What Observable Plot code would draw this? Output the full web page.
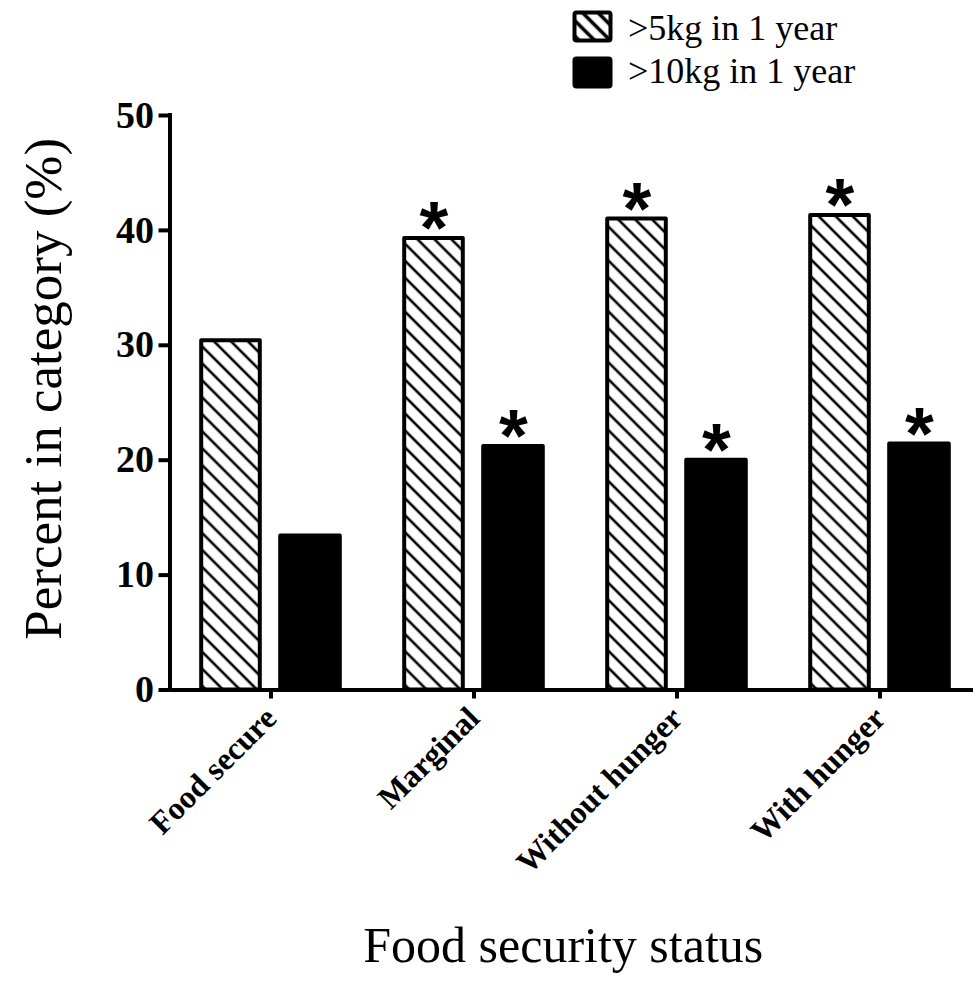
<!DOCTYPE html>
<html>
<head>
<meta charset="utf-8">
<script src="https://cdn.jsdelivr.net/npm/d3@7"></script>
<script src="https://cdn.jsdelivr.net/npm/@observablehq/plot@0.6"></script>
<style>
  html, body { margin: 0; padding: 0; background: white; }
  #wrap { position: relative; width: 973px; height: 996px; overflow: hidden; }
  .leg-text { position: absolute; font-family: "Liberation Serif", "Times New Roman", serif; font-size: 36px; line-height: 36px; color: black; white-space: nowrap; }
  .leg-sw { position: absolute; }
</style>
</head>
<body>
<div id="wrap"></div>
<script>
const categories = ["Food secure", "Marginal", "Without hunger", "With hunger"];
const over5kg = [30.4, 39.3, 41.0, 41.3];
const over10kg = [13.4, 21.2, 20.0, 21.4];
const sig5kg = [false, true, true, true];
const sig10kg = [false, true, true, true];
const seriesNames = [">5kg in 1 year", ">10kg in 1 year"];
const yTicks = [0, 10, 20, 30, 40, 50];
const xTitle = "Food security status";
const yTitle = "Percent in category (%)";

const rows5 = categories.map((c, i) => ({cat: c, value: over5kg[i], sig: sig5kg[i]}));
const rows10 = categories.map((c, i) => ({cat: c, value: over10kg[i], sig: sig10kg[i]}));

const serif = "'Liberation Serif', 'Times New Roman', serif";
const sans = "'Liberation Sans', Arial, sans-serif";

function hatchDefs() {
  const defs = d3.create("svg:defs");
  const p = defs.append("pattern")
    .attr("id", "hatch")
    .attr("patternUnits", "userSpaceOnUse")
    .attr("width", 12).attr("height", 12)
    .attr("patternTransform", "rotate(-45)");
  p.append("rect").attr("width", 12).attr("height", 12).attr("fill", "white");
  p.append("line").attr("x1", 6).attr("x2", 6).attr("y1", -1).attr("y2", 13)
    .attr("stroke", "black").attr("stroke-width", 2.6);
  return defs.node();
}

const chart = Plot.plot({
  width: 973,
  height: 996,
  marginTop: 115,
  marginBottom: 306.5,
  marginLeft: 168.5,
  marginRight: 0,
  style: {fontFamily: serif, color: "black", background: "white", overflow: "visible"},
  x: {type: "band", domain: categories, range: [167.8, 981.4], padding: 0, label: null},
  y: {domain: [0, 50], range: [689.5, 115], label: null},
  marks: [
    hatchDefs,
    Plot.barY(rows5, {x: "cat", y: "value", fill: "url(#hatch)", stroke: "black", strokeWidth: 4,
      strokeLinejoin: "round", insetLeft: 32.2, insetRight: 112.2}),
    Plot.barY(rows10, {x: "cat", y: "value", fill: "black", stroke: "black", strokeWidth: 4,
      strokeLinejoin: "round", insetLeft: 111.2, insetRight: 32.2}),
    Plot.ruleY([0], {strokeWidth: 4}),
    Plot.ruleX([categories[0]], {y1: 0, y2: 50, dx: -101, strokeWidth: 4, strokeLinecap: "square"}),
    Plot.axisY({ticks: yTicks, tickSize: 10, tickPadding: 5, strokeWidth: 4, fontSize: 38,
      fontWeight: "bold", tickFormat: d => String(d), label: null}),
    Plot.axisX({tickSize: 9, strokeWidth: 4, tickRotate: -45, tickPadding: 14, fontSize: 32,
      fontWeight: "bold", label: null}),
    Plot.text(rows5.filter(d => d.sig), {x: "cat", y: "value", text: () => "*", dx: -40, dy: 15,
      fontSize: 74, fontWeight: "bold", fontFamily: sans, lineAnchor: "bottom"}),
    Plot.text(rows10.filter(d => d.sig), {x: "cat", y: "value", text: () => "*", dx: 39.5, dy: 15,
      fontSize: 74, fontWeight: "bold", fontFamily: sans, lineAnchor: "bottom"}),
    Plot.text([xTitle], {frameAnchor: "bottom", text: d => d, dy: 272, dx: -8, fontSize: 50, fontFamily: serif}),
    Plot.text([yTitle], {frameAnchor: "left", textAnchor: "middle", text: d => d, rotate: -90, dx: -125, dy: -14, fontSize: 53, fontFamily: serif})
  ]
});

const wrap = document.getElementById("wrap");
wrap.appendChild(chart);

// legend
function swatch(top, hatched) {
  const s = d3.create("svg").attr("class", "leg-sw").attr("width", 42).attr("height", 36)
    .style("left", "572px").style("top", top + "px");
  if (hatched) {
    const p = s.append("defs").append("pattern").attr("id", "hatchLeg")
      .attr("patternUnits", "userSpaceOnUse").attr("width", 11).attr("height", 11)
      .attr("patternTransform", "rotate(-45)");
    p.append("rect").attr("width", 11).attr("height", 11).attr("fill", "white");
    p.append("line").attr("x1", 5.5).attr("x2", 5.5).attr("y1", -1).attr("y2", 12)
      .attr("stroke", "black").attr("stroke-width", 3.6);
  }
  s.append("rect").attr("x", 2.5).attr("y", 2.5).attr("width", 36).attr("height", 28).attr("rx", 2)
    .attr("fill", hatched ? "url(#hatchLeg)" : "black").attr("stroke", "black").attr("stroke-width", 4);
  wrap.appendChild(s.node());
}
function legText(top, txt) {
  const d = document.createElement("div");
  d.className = "leg-text";
  d.style.left = "628px";
  d.style.top = top + "px";
  d.textContent = txt;
  wrap.appendChild(d);
}
swatch(10, true);
swatch(56, false);
legText(10, seriesNames[0]);
legText(53, seriesNames[1]);
</script>
</body>
</html>
